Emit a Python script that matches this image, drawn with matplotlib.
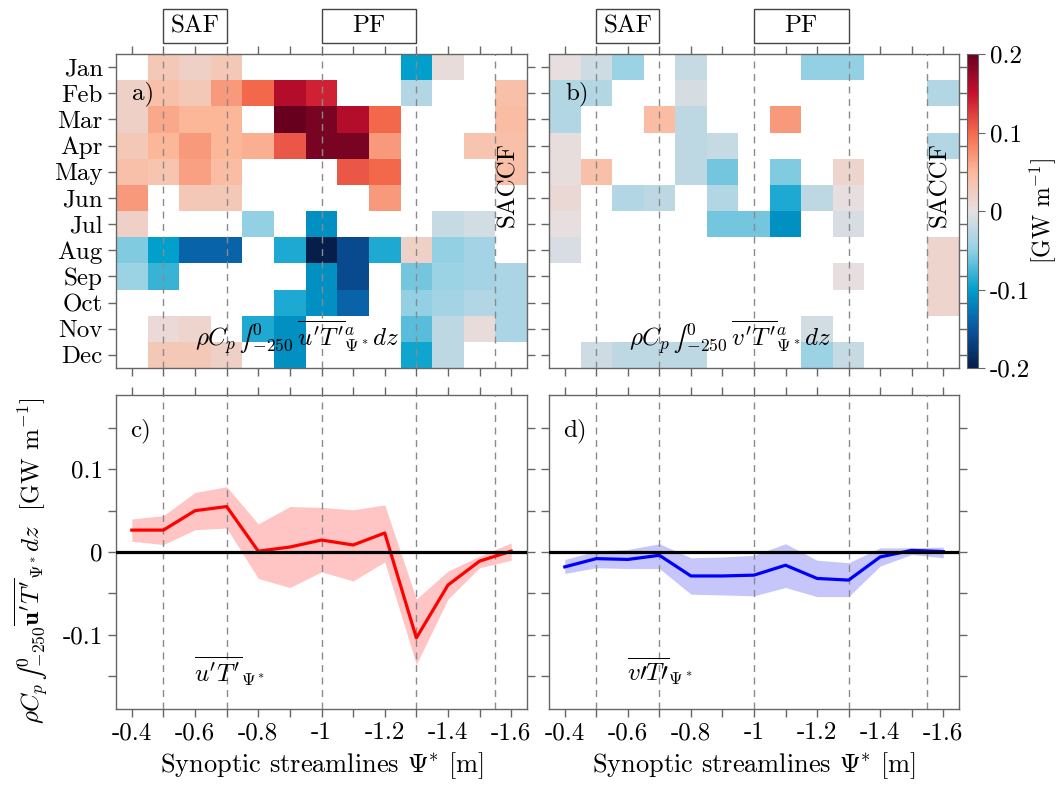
import numpy as np
import matplotlib
matplotlib.use("Agg")
import matplotlib.pyplot as plt
from matplotlib.colors import LinearSegmentedColormap
from matplotlib.patches import Rectangle
import matplotlib.transforms as mtransforms

plt.rcParams['font.family'] = 'serif'
plt.rcParams['font.serif'] = ['cmr10', 'DejaVu Serif']
plt.rcParams['mathtext.fontset'] = 'cm'
plt.rcParams['axes.unicode_minus'] = False
plt.rcParams['axes.formatter.use_mathtext'] = True

n = np.nan
# streamline centres
psi = [-0.4, -0.5, -0.6, -0.7, -0.8, -0.9, -1.0, -1.1, -1.2, -1.3, -1.4, -1.5, -1.6]
months = ['Jan', 'Feb', 'Mar', 'Apr', 'May', 'Jun', 'Jul', 'Aug', 'Sep', 'Oct', 'Nov', 'Dec']
xtick_labels = ['-0.4', '', '-0.6', '', '-0.8', '', '-1', '', '-1.2', '', '-1.4', '', '-1.6']

# a) u'T' monthly (GW/m), blank = not significant
ut_month = [
    [n, 0.03, 0.02, 0.03, n, n, n, n, n, -0.1, 0.005, n, n],
    [0.02, 0.04, 0.03, 0.07, 0.1, 0.16, 0.14, n, n, -0.03, n, n, 0.04],
    [0.02, 0.06, 0.05, 0.05, n, 0.2, 0.19, 0.16, 0.1, n, n, n, 0.045],
    [0.03, 0.05, 0.07, 0.05, 0.055, 0.11, 0.19, 0.19, 0.07, n, n, 0.035, 0.04],
    [0.04, 0.035, 0.065, 0.045, n, n, n, 0.11, 0.1, n, n, n, 0.04],
    [0.07, n, 0.03, 0.03, n, n, n, n, 0.07, n, n, n, n],
    [0.02, n, n, n, -0.05, n, -0.11, n, n, n, -0.02, -0.012, n],
    [-0.055, -0.1, -0.14, -0.14, n, -0.09, -0.2, -0.16, -0.09, 0.02, -0.05, -0.04, n],
    [-0.045, -0.08, n, n, n, n, -0.11, -0.16, n, -0.06, -0.045, -0.04, -0.035],
    [n, n, n, n, n, -0.09, -0.11, -0.14, n, -0.05, -0.04, -0.03, -0.035],
    [n, 0.008, 0.015, n, -0.09, -0.11, n, n, n, -0.07, -0.025, 0.005, -0.035],
    [n, 0.03, 0.03, 0.02, n, -0.11, n, n, n, -0.095, -0.025, n, n],
]
# b) v'T' monthly
vt_month = [
    [0.003, -0.015, -0.045, n, -0.02, n, n, n, -0.05, -0.05, n, n, n],
    [-0.03, -0.03, n, n, -0.01, n, n, n, n, n, n, n, -0.03],
    [-0.03, n, n, 0.045, -0.025, n, n, 0.07, n, n, n, n, n],
    [0.004, n, n, n, -0.025, -0.02, n, n, n, n, n, n, -0.03],
    [0.004, 0.04, n, n, -0.025, -0.06, n, -0.055, n, 0.015, n, n, n],
    [0.01, n, -0.03, -0.025, n, -0.03, n, -0.09, -0.025, 0.003, n, n, n],
    [0.003, n, n, n, n, -0.06, -0.06, -0.11, n, -0.008, n, n, n],
    [-0.008, n, n, n, n, n, n, n, n, n, n, n, 0.015],
    [n, n, n, n, n, n, n, n, n, 0.003, n, n, 0.015],
    [n, n, n, n, n, n, n, n, n, n, n, n, 0.015],
    [n, n, n, n, n, n, n, n, -0.012, n, n, n, n],
    [n, -0.015, -0.025, -0.025, -0.025, n, n, n, -0.045, -0.02, n, n, n],
]

# c) annual mean u'T' with spread
ut_mean = [0.0265, 0.0265, 0.050, 0.055, 0.001, 0.006, 0.0145, 0.0085, 0.023, -0.104, -0.040, -0.011, 0.001]
ut_hi = [0.040, 0.044, 0.072, 0.079, 0.034, 0.055, 0.054, 0.051, 0.057, -0.057, -0.023, -0.005, 0.011]
ut_lo = [0.013, 0.009, 0.027, 0.029, -0.032, -0.043, -0.024, -0.035, -0.012, -0.136, -0.057, -0.019, -0.010]
# d) annual mean v'T' with spread
vt_mean = [-0.018, -0.008, -0.009, -0.004, -0.029, -0.029, -0.028, -0.016, -0.032, -0.034, -0.006, 0.002, 0.0005]
vt_hi = [-0.009, 0.001, 0.003, 0.010, -0.007, -0.006, -0.004, 0.010, -0.010, -0.013, 0.005, 0.005, 0.006]
vt_lo = [-0.026, -0.019, -0.020, -0.020, -0.051, -0.052, -0.053, -0.043, -0.054, -0.054, -0.017, -0.003, -0.007]

fronts = [-0.5, -0.7, -1.0, -1.3, -1.55]

cmap = LinearSegmentedColormap.from_list('div', [
    (0.0, '#061f4a'), (0.125, '#0a55a0'), (0.25, '#00a0cc'), (0.375, '#92d0e4'),
    (0.5, '#e6e0e3'), (0.625, '#fcb89a'), (0.75, '#f46a4c'), (0.875, '#c8102e'),
    (1.0, '#67001f')])

fig = plt.figure(figsize=(10.57, 7.9), dpi=100)
W, H = 1057, 790
FS = 18


def box(l, t, r, b):
    return [l / W, 1 - b / H, (r - l) / W, (b - t) / H]


ax_a = fig.add_axes(box(116, 54, 527, 368))
ax_b = fig.add_axes(box(549, 54, 959, 368))
cax = fig.add_axes(box(967, 54, 978, 368))
ax_c = fig.add_axes(box(116, 395, 527, 709))
ax_d = fig.add_axes(box(549, 395, 959, 709))

x = np.array(psi)
xedges = np.append(x + 0.05, x[-1] - 0.05)
yedges = np.arange(13)
edge = '#666666'


def style(ax):
    for s in ax.spines.values():
        s.set_color(edge)
        s.set_linewidth(1.0)
    ax.tick_params(which='both', direction='out', color=edge, length=6, width=1,
                   top=True, right=True, labelsize=FS)
    ax.set_xlim(-0.35, -1.65)
    ax.set_xticks(psi)
    for f in fronts:
        ax.axvline(f, color='#8a8a8a', lw=1.0, ls=(0, (5, 4)), zorder=3)


for ax, data, lab, form in [
        (ax_a, ut_month, 'a)', r"$\rho C_p\,∫_{-250}^{0}\,\overline{u'T'}^{a}_{\Psi^*}dz$"),
        (ax_b, vt_month, 'b)', r"$\rho C_p\,∫_{-250}^{0}\,\overline{v'T'}^{a}_{\Psi^*}dz$")]:
    z = np.ma.masked_invalid(np.array(data, dtype=float))
    pm = ax.pcolormesh(xedges, yedges, z, cmap=cmap, vmin=-0.2, vmax=0.2)
    style(ax)
    ax.set_ylim(12, 0)
    ax.set_yticks(np.arange(12) + 0.5)
    ax.set_xticklabels([])
    ax.text(0.04, 0.875, lab, transform=ax.transAxes, fontsize=FS, va='center', zorder=5)
    ax.text(-1.59, 5.0, 'SACCF', rotation=90, ha='center', va='center', fontsize=FS, zorder=5)
    ax.text(0.44, 0.035, form, transform=ax.transAxes, ha='center', va='bottom', fontsize=FS, zorder=5)
    trans = mtransforms.blended_transform_factory(ax.transData, ax.transAxes)
    for (x0, x1, name) in [(-0.5, -0.7, 'SAF'), (-1.0, -1.3, 'PF')]:
        ax.add_patch(Rectangle((x0, 1.035), x1 - x0, 0.107, transform=trans, fill=False,
                               edgecolor='#444444', lw=1.0, clip_on=False))
        ax.text((x0 + x1) / 2, 1.088, name, transform=trans, ha='center', va='center', fontsize=FS)

ax_a.set_yticklabels(months)
ax_b.set_yticklabels([])

cb = fig.colorbar(pm, cax=cax, ticks=[-0.2, -0.1, 0, 0.1, 0.2])
cb.ax.set_yticklabels(['-0.2', '-0.1', '0', '0.1', '0.2'])
cb.ax.tick_params(labelsize=FS, length=5, color=edge)
cb.outline.set_edgecolor(edge)
cb.set_label('[GW m$^{-1}$]', fontsize=17, rotation=90, labelpad=-2)

for ax, mean, lo, hi, col, fc, lab, ann in [
        (ax_c, ut_mean, ut_lo, ut_hi, 'red', '#ffc4c4', 'c)', r"$\overline{u'T'}_{\Psi^*}$"),
        (ax_d, vt_mean, vt_lo, vt_hi, 'blue', '#c6c6fa', 'd)', r"$\overline{v\prime T\prime}_{\Psi^*}$")]:
    ax.fill_between(psi, lo, hi, color=fc, lw=0, zorder=1)
    ax.plot(psi, mean, color=col, lw=2.3, zorder=4)
    ax.axhline(0, color='black', lw=2.3, zorder=5)
    style(ax)
    ax.set_ylim(-0.19, 0.19)
    ax.set_yticks([-0.15, -0.1, -0.05, 0, 0.05, 0.1, 0.15])
    ax.set_xticklabels(xtick_labels)
    ax.set_xlabel(r'Synoptic streamlines $\Psi^{*}$ [m]', fontsize=19, labelpad=4)
    ax.text(0.035, 0.885, lab, transform=ax.transAxes, fontsize=FS, va='center')
    ax.text(0.19, 0.12, ann, transform=ax.transAxes, fontsize=FS, va='center')

ax_c.set_yticklabels(['', '-0.1', '', '0', '', '0.1', ''])
ax_d.set_yticklabels([])
fig.text(0.03, 0.29, r"$\rho C_p\,∫_{-250}^{0}\overline{\mathbf{u}'T'}_{\Psi^*}dz$  [GW m$^{-1}$]",
         rotation=90, ha='center', va='center', fontsize=FS)

fig.savefig('out.png', dpi=100)
